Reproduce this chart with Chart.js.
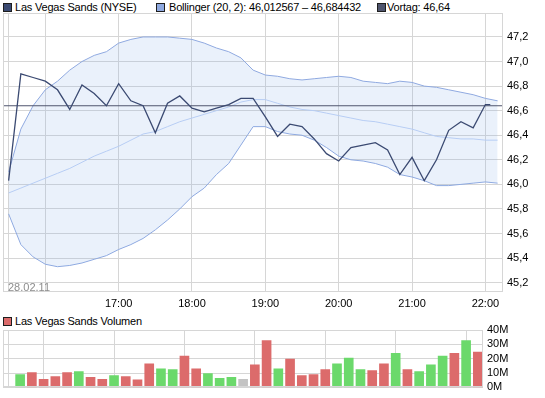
<!DOCTYPE html>
<html>
<head>
<meta charset="utf-8">
<script src="https://cdn.jsdelivr.net/npm/chart.js@4.4.1/dist/chart.umd.min.js"></script>
<style>
  body { margin: 0; background: #fff; }
  #wrap { position: relative; width: 545px; height: 398px; font-family: "Liberation Sans", Arial, sans-serif; font-size: 11px; color: #000; }
  #wrap canvas { position: absolute; left: 0; }
  .lg { position: absolute; white-space: nowrap; line-height: 12px; letter-spacing: -0.2px; }
  .sq { position: absolute; width: 7px; height: 7px; border: 1px solid #1e1e1e; }
  #dateLbl { position: absolute; left: 8px; top: 282px; color: #8c8c8c; font-size: 11px; line-height: 11px; }
</style>
</head>
<body>
<div id="wrap">
  <div class="sq" style="left:3px;top:3px;background:#3b4a72"></div>
  <div class="lg" style="left:15px;top:1px">Las Vegas Sands (NYSE)</div>
  <div class="sq" style="left:156px;top:3px;background:#8fa9e0"></div>
  <div class="lg" style="left:169px;top:1px">Bollinger (20, 2): 46,012567 – 46,684432</div>
  <div class="sq" style="left:377px;top:3px;background:#4f556e"></div>
  <div class="lg" style="left:387px;top:1px">Vortag: 46,64</div>

  <canvas id="priceChart" width="545" height="310" style="top:0"></canvas>
  <div id="dateLbl">28.02.11</div>

  <div class="sq" style="left:3px;top:317px;background:#dc6b6b"></div>
  <div class="lg" style="left:15px;top:315px">Las Vegas Sands Volumen</div>
  <canvas id="volChart" width="545" height="88" style="top:310px"></canvas>
</div>

<script>
// --- data (times are CET, 28.02.11) ---
const bandTimes = ['15:30','15:40','15:50','16:00','16:10','16:20','16:30','16:40','16:50','17:00',
  '17:10','17:20','17:30','17:40','17:50','18:00','18:10','18:20','18:30','18:40',
  '18:50','19:00','19:10','19:20','19:30','19:40','19:50','20:00','20:10','20:20',
  '20:30','20:40','20:50','21:00','21:10','21:20','21:30','21:40','21:50','22:00','22:10'];
const bandUpper = [46.10, 46.45, 46.64, 46.77, 46.84, 46.93, 47.00, 47.05, 47.08, 47.15,
  47.18, 47.20, 47.20, 47.20, 47.19, 47.18, 47.15, 47.11, 47.08, 47.03,
  46.93, 46.89, 46.88, 46.86, 46.85, 46.86, 46.87, 46.88, 46.87, 46.84,
  46.83, 46.82, 46.84, 46.83, 46.80, 46.79, 46.77, 46.75, 46.73, 46.70, 46.68];
const bandMiddle = [45.93, 45.97, 46.01, 46.05, 46.09, 46.13, 46.18, 46.23, 46.27, 46.31,
  46.36, 46.41, 46.43, 46.47, 46.51, 46.54, 46.57, 46.60, 46.63, 46.67,
  46.69, 46.69, 46.66, 46.63, 46.61, 46.60, 46.58, 46.56, 46.54, 46.52,
  46.51, 46.49, 46.47, 46.45, 46.42, 46.39, 46.38, 46.37, 46.37, 46.36, 46.36];
const bandLower = [45.76, 45.51, 45.41, 45.35, 45.33, 45.34, 45.36, 45.39, 45.42, 45.47,
  45.51, 45.56, 45.63, 45.71, 45.80, 45.90, 45.97, 46.08, 46.17, 46.32,
  46.47, 46.47, 46.43, 46.41, 46.40, 46.36, 46.30, 46.23, 46.20, 46.19,
  46.17, 46.14, 46.08, 46.06, 46.03, 45.99, 45.99, 46.00, 46.01, 46.02, 46.01];

const priceTimes = ['15:30','15:40','15:50','16:00','16:10','16:20','16:30','16:40','16:50','17:00',
  '17:10','17:20','17:30','17:40','17:50','18:00','18:10','18:20','18:30','18:40',
  '18:50','19:00','19:10','19:20','19:30','19:40','19:50','20:00','20:10','20:20',
  '20:30','20:40','20:50','21:00','21:10','21:20','21:30','21:40','21:50','22:00','22:04'];
const priceValues = [46.03, 46.90, 46.87, 46.84, 46.77, 46.61, 46.81, 46.74, 46.64, 46.82,
  46.68, 46.64, 46.42, 46.66, 46.72, 46.62, 46.59, 46.62, 46.65, 46.70,
  46.70, 46.55, 46.39, 46.49, 46.47, 46.37, 46.25, 46.19, 46.30, 46.32,
  46.34, 46.28, 46.08, 46.22, 46.03, 46.20, 46.44, 46.51, 46.46, 46.65, 46.65];
const vortag = 46.64;

const volTimes = ['15:40','15:50','16:00','16:10','16:20','16:30','16:40','16:50','17:00','17:10',
  '17:20','17:30','17:40','17:50','18:00','18:10','18:20','18:30','18:40','18:50',
  '19:00','19:10','19:20','19:30','19:40','19:50','20:00','20:10','20:20','20:30',
  '20:40','20:50','21:00','21:10','21:20','21:30','21:40','21:50','22:00','22:10'];
const volValues = [9.0, 10.3, 5.6, 7.6, 10.3, 11.0, 7.0, 5.6, 8.3, 7.6,
  5.2, 16.4, 13.0, 12.4, 21.8, 13.0, 9.7, 6.3, 7.0, 5.6,
  15.7, 32.6, 13.0, 19.8, 8.3, 9.0, 12.4, 16.4, 20.4, 12.4,
  11.7, 16.4, 23.8, 12.4, 11.0, 15.7, 21.8, 23.8, 32.6, 24.7];
// u = up (green), d = down (red), n = unchanged (grey)
const volDirection = ['u','d','d','d','d','u','d','d','u','d',
  'd','d','u','u','d','d','u','u','u','n',
  'd','d','u','d','d','d','d','u','u','u',
  'd','d','u','d','u','u','u','d','u','d'];

const xTickTimes = ['15:30','16:00','17:00','18:00','19:00','20:00','21:00','22:00'];
const xTickLabels = ['', '', '17:00', '18:00', '19:00', '20:00', '21:00', '22:00'];
const priceTicks = [45.2, 45.4, 45.6, 45.8, 46.0, 46.2, 46.4, 46.6, 46.8, 47.0, 47.2];
const volTicks = [0, 10, 20, 30, 40];

// --- helpers ---
function toMin(s) {
  const p = s.split(':');
  return parseInt(p[0], 10) * 60 + parseInt(p[1], 10);
}
function pts(times, values) {
  return times.map(function (t, i) { return { x: toMin(t), y: values[i] }; });
}
function fmtDe(v, d) { return v.toFixed(d).replace('.', ','); }

const X_MIN = 925.4, X_MAX = 1334.4;
const GRID = '#d6d6d6';
const DIR_COLORS = { u: '#6bd96b', d: '#dc6b6b', n: '#c3c3c3' };

Chart.defaults.font.family = '"Liberation Sans", Arial, sans-serif';
Chart.defaults.font.size = 11;
Chart.defaults.color = '#000';

const framePlugin = {
  id: 'frame',
  afterDatasetsDraw: function (chart) {
    const a = chart.chartArea, ctx = chart.ctx;
    ctx.save();
    ctx.strokeStyle = GRID;
    ctx.lineWidth = 1;
    ctx.strokeRect(Math.round(a.left) + 0.5, Math.round(a.top) + 0.5, Math.round(a.right - a.left) - 1, Math.round(a.bottom - a.top) - 1);
    ctx.restore();
  }
};

function xScale(showLabels, height) {
  return {
    type: 'linear', min: X_MIN, max: X_MAX, offset: false,
    afterBuildTicks: function (s) { s.ticks = xTickTimes.map(function (t) { return { value: toMin(t) }; }); },
    afterFit: function (s) { s.height = height; },
    grid: { color: GRID, drawTicks: false, offset: false },
    border: { display: false },
    ticks: {
      display: showLabels, padding: 5, maxRotation: 0, autoSkip: false,
      callback: function (v, i) { return xTickLabels[i]; }
    }
  };
}

// --- price chart ---
new Chart(document.getElementById('priceChart'), {
  type: 'line',
  data: {
    datasets: [
      { data: pts(priceTimes, priceValues), borderColor: '#3b4a72', borderWidth: 1.3, pointRadius: 0, order: 0 },
      { data: [{ x: X_MIN, y: vortag }, { x: X_MAX, y: vortag }], borderColor: '#4f556e', borderWidth: 1.2, pointRadius: 0, order: 1 },
      { data: pts(bandTimes, bandMiddle), borderColor: '#b7cdf4', borderWidth: 1, pointRadius: 0, order: 2 },
      { data: pts(bandTimes, bandUpper), borderColor: '#8fa9e0', borderWidth: 1, pointRadius: 0, order: 3,
        fill: { target: 4 }, backgroundColor: 'rgba(140,175,235,0.18)' },
      { data: pts(bandTimes, bandLower), borderColor: '#8fa9e0', borderWidth: 1, pointRadius: 0, order: 4 }
    ]
  },
  options: {
    responsive: false, animation: false, devicePixelRatio: 1,
    layout: { padding: { left: 3, top: 13, right: 0, bottom: 0 } },
    plugins: { legend: { display: false }, tooltip: { enabled: false } },
    scales: {
      x: xScale(true, 18),
      y: {
        position: 'right', min: 45.124, max: 47.395,
        afterBuildTicks: function (s) { s.ticks = priceTicks.map(function (v) { return { value: v }; }); },
        afterFit: function (s) { s.width = 42; },
        grid: { color: GRID, drawTicks: false },
        border: { display: false },
        ticks: { padding: 4, callback: function (v) { return fmtDe(v, 1); } }
      }
    }
  },
  plugins: [framePlugin]
});

// --- volume chart ---
new Chart(document.getElementById('volChart'), {
  type: 'bar',
  data: {
    datasets: [{
      data: pts(volTimes, volValues),
      backgroundColor: volDirection.map(function (d) { return DIR_COLORS[d]; }),
      barThickness: 9
    }]
  },
  options: {
    responsive: false, animation: false, devicePixelRatio: 1,
    layout: { padding: { left: 3, top: 20, right: 0, bottom: 0 } },
    plugins: { legend: { display: false }, tooltip: { enabled: false } },
    scales: {
      x: xScale(false, 9),
      y: {
        position: 'right', min: 0, max: 40,
        afterBuildTicks: function (s) { s.ticks = volTicks.map(function (v) { return { value: v }; }); },
        afterFit: function (s) { s.width = 62; },
        grid: { color: GRID, drawTicks: false },
        border: { display: false },
        ticks: { padding: 4, callback: function (v) { return v + 'M'; } }
      }
    }
  },
  plugins: [framePlugin]
});
</script>
</body>
</html>
